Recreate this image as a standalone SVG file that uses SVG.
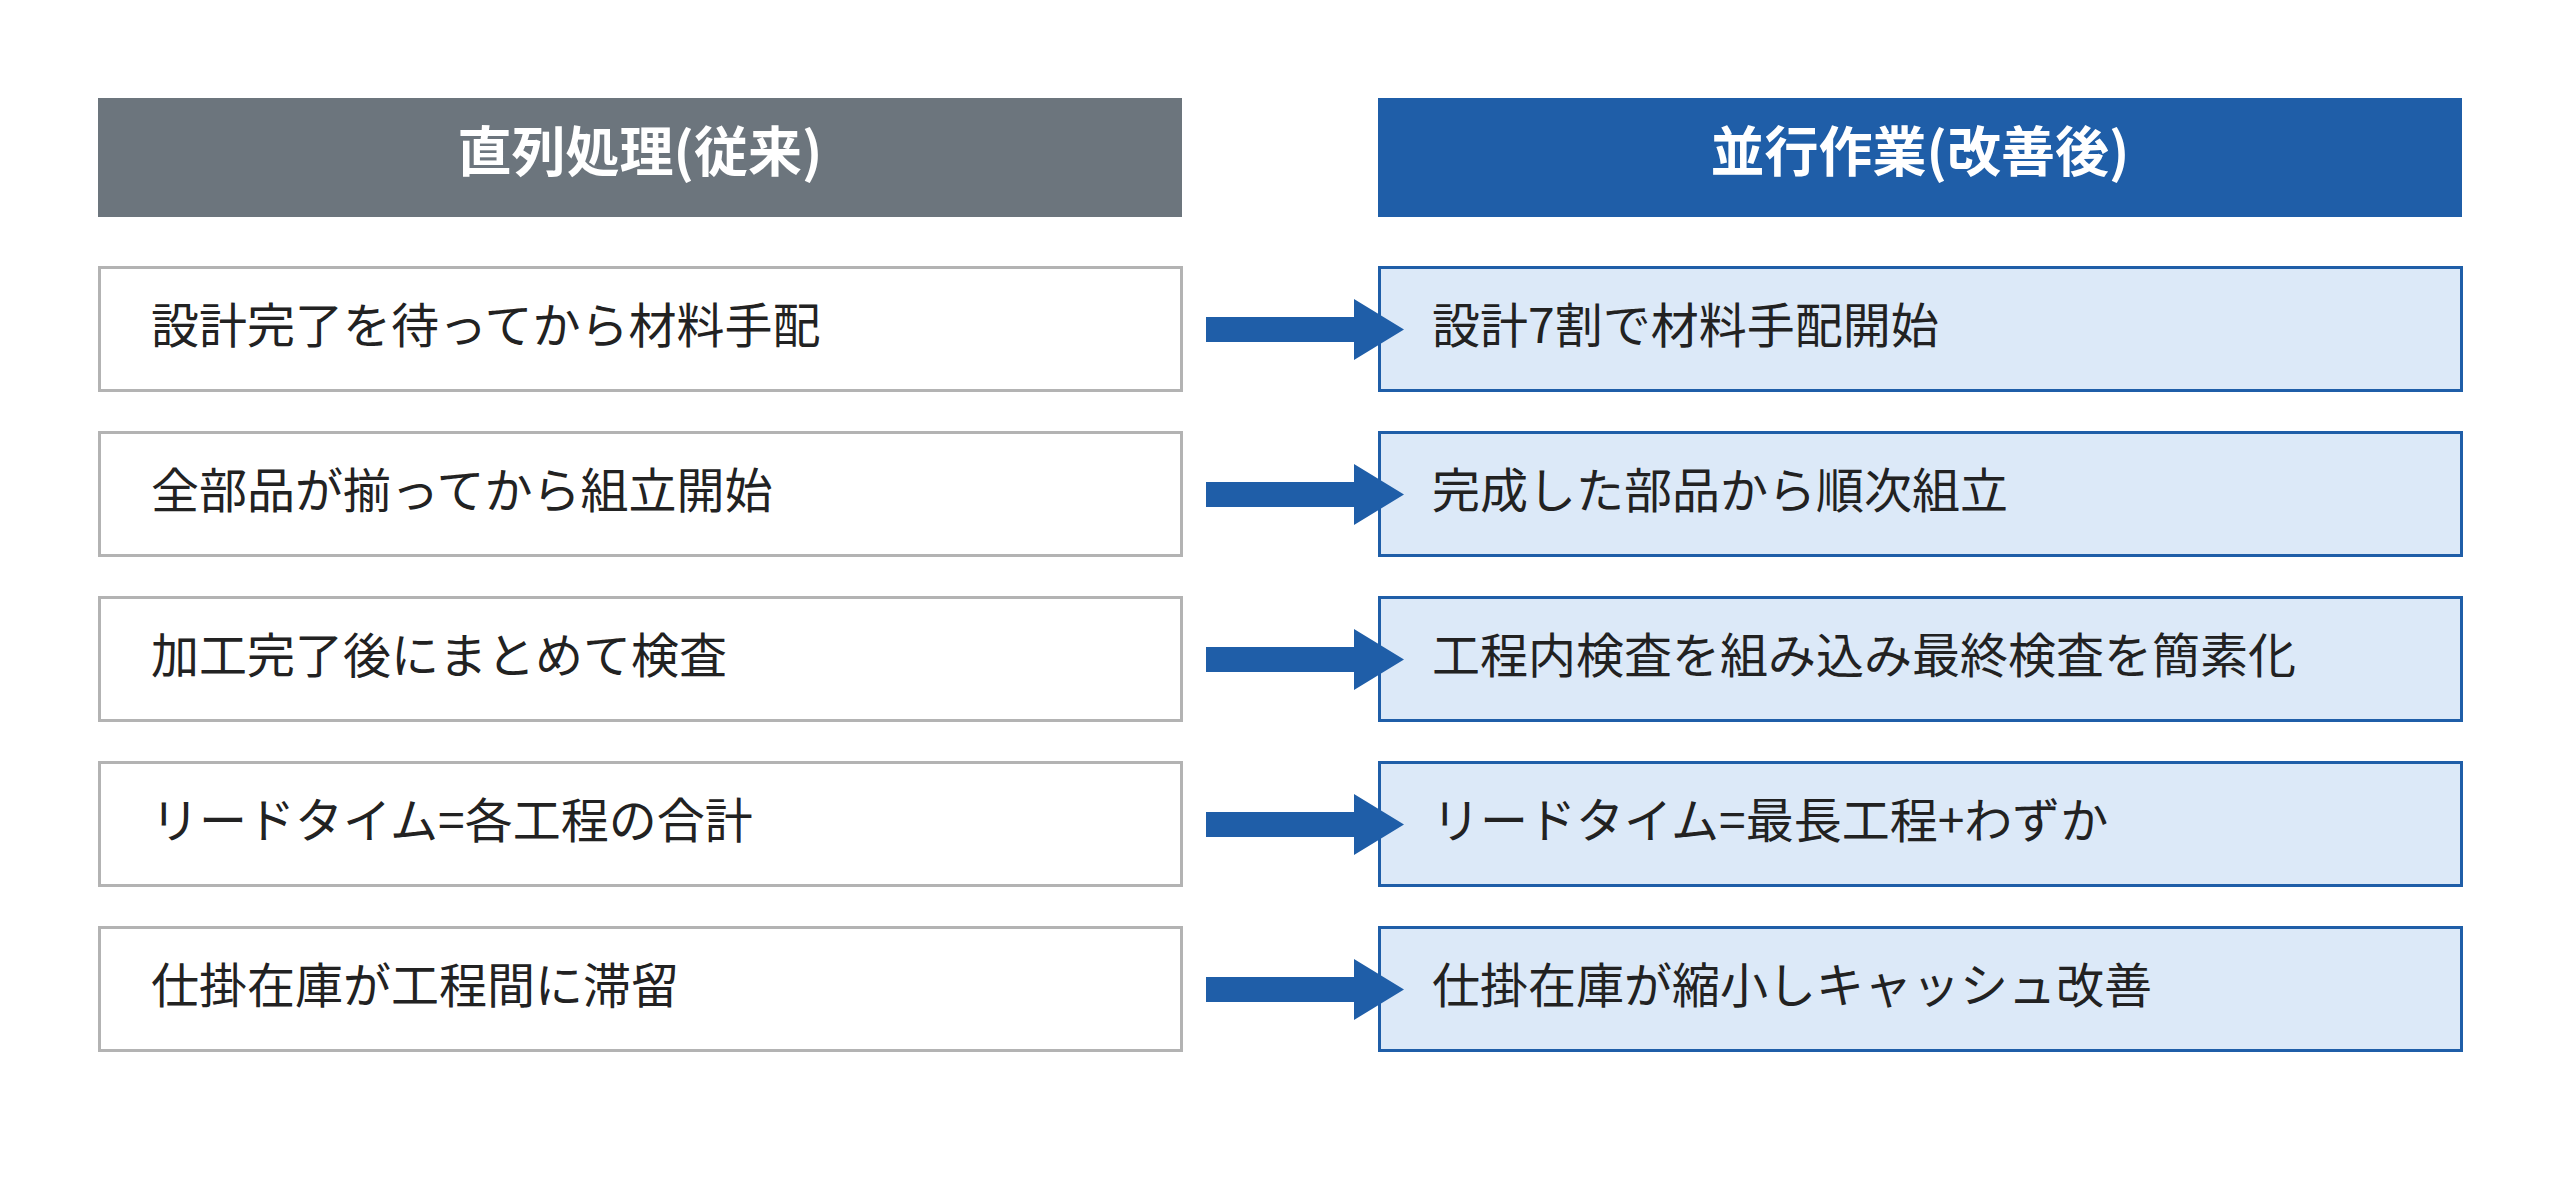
<svg xmlns="http://www.w3.org/2000/svg" width="2560" height="1191" viewBox="0 0 2560 1191">
<style>
.h{font-family:"Noto Sans CJK JP","Noto Sans",sans-serif;font-weight:bold;font-size:54px;fill:#fff;text-anchor:middle}
.t{font-family:"Noto Sans CJK JP","Noto Sans",sans-serif;font-size:48px;fill:#222}
.l{fill:#fff;stroke:#b3b3b3;stroke-width:3}
.r{fill:#dce9f8;stroke:#1f5ea8;stroke-width:3}
.a{fill:#1f5ea8}
</style>
<rect width="2560" height="1191" fill="#fff"/>
<g id="hdr-left"><rect x="98" y="98" width="1084" height="119" fill="#6c757d"/><text class="h" x="640" y="172">直列処理(従来)</text></g>
<g id="hdr-right"><rect x="1378" y="98" width="1084" height="119" fill="#1f5ea8"/><text class="h" x="1920" y="172">並行作業(改善後)</text></g>
<g id="l1"><rect class="l" x="99.5" y="267.5" width="1082" height="123"/><text class="t" x="151" y="343">設計完了を待ってから材料手配</text></g>
<g id="l2"><rect class="l" x="99.5" y="432.5" width="1082" height="123"/><text class="t" x="151" y="508">全部品が揃ってから組立開始</text></g>
<g id="l3"><rect class="l" x="99.5" y="597.5" width="1082" height="123"/><text class="t" x="151" y="673">加工完了後にまとめて検査</text></g>
<g id="l4"><rect class="l" x="99.5" y="762.5" width="1082" height="123"/><text class="t" x="151" y="838">リードタイム=各工程の合計</text></g>
<g id="l5"><rect class="l" x="99.5" y="927.5" width="1082" height="123"/><text class="t" x="151" y="1003">仕掛在庫が工程間に滞留</text></g>
<g id="r1"><rect class="r" x="1379.5" y="267.5" width="1082" height="123"/><text class="t" x="1432" y="343">設計7割で材料手配開始</text></g>
<g id="r2"><rect class="r" x="1379.5" y="432.5" width="1082" height="123"/><text class="t" x="1432" y="508">完成した部品から順次組立</text></g>
<g id="r3"><rect class="r" x="1379.5" y="597.5" width="1082" height="123"/><text class="t" x="1432" y="673">工程内検査を組み込み最終検査を簡素化</text></g>
<g id="r4"><rect class="r" x="1379.5" y="762.5" width="1082" height="123"/><text class="t" x="1432" y="838">リードタイム=最長工程+わずか</text></g>
<g id="r5"><rect class="r" x="1379.5" y="927.5" width="1082" height="123"/><text class="t" x="1432" y="1003">仕掛在庫が縮小しキャッシュ改善</text></g>
<g id="connectors">
<polygon class="a" points="1206,317 1354,317 1354,299 1404,329.5 1354,360 1354,342 1206,342"/>
<polygon class="a" points="1206,482 1354,482 1354,464 1404,494.5 1354,525 1354,507 1206,507"/>
<polygon class="a" points="1206,647 1354,647 1354,629 1404,659.5 1354,690 1354,672 1206,672"/>
<polygon class="a" points="1206,812 1354,812 1354,794 1404,824.5 1354,855 1354,837 1206,837"/>
<polygon class="a" points="1206,977 1354,977 1354,959 1404,989.5 1354,1020 1354,1002 1206,1002"/>
</g>
</svg>
